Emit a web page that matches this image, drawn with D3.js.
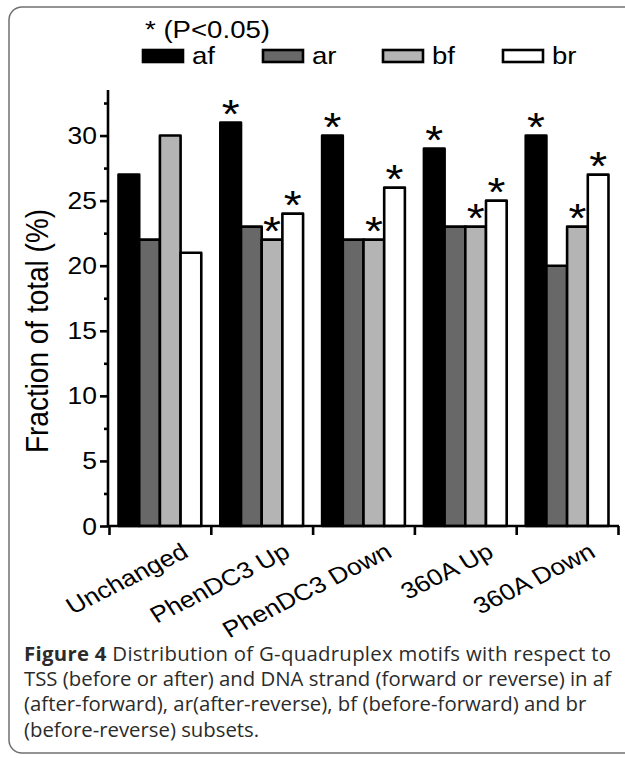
<!DOCTYPE html>
<html>
<head>
<meta charset="utf-8">
<script src="https://cdn.jsdelivr.net/npm/d3@7"></script>
<style>
  html, body { margin: 0; padding: 0; background: #fff; }
  svg { display: block; }
</style>
</head>
<body>
<svg id="chart" width="625" height="758"></svg>
<script>
// ---------------- data ----------------
const categories = ["Unchanged", "PhenDC3 Up", "PhenDC3 Down", "360A Up", "360A Down"];
const seriesNames = ["af", "ar", "bf", "br"];
const afValues = [27, 31, 30, 29, 30];
const arValues = [22, 23, 22, 23, 20];
const bfValues = [30, 22, 22, 23, 23];
const brValues = [21, 24, 26, 25, 27];
// significance markers (* P<0.05)
const afSig = [false, true, true, true, true];
const arSig = [false, false, false, false, false];
const bfSig = [false, true, true, true, true];
const brSig = [false, true, true, true, true];
const yTicks = [0, 5, 10, 15, 20, 25, 30];
const yMinorTicks = [2.5, 7.5, 12.5, 17.5, 22.5, 27.5, 32.5];
const yLabel = "Fraction of total (%)";
const legendNote = "* (P<0.05)";
const captionBold = "Figure 4";
const captionLines = [
  " Distribution of G-quadruplex motifs with respect to",
  "TSS (before or after) and DNA strand (forward or reverse) in af",
  "(after-forward), ar(after-reverse), bf (before-forward) and br",
  "(before-reverse) subsets."
];

const seriesValues = [afValues, arValues, bfValues, brValues];
const seriesSig = [afSig, arSig, bfSig, brSig];
const seriesFill = ["#000000", "#686868", "#b4b4b4", "#ffffff"];

const table = [];
categories.forEach((c, i) => {
  seriesNames.forEach((s, j) => {
    table.push({cat: c, ser: s, value: seriesValues[j][i], sig: seriesSig[j][i], fill: seriesFill[j]});
  });
});

// ---------------- layout ----------------
const svg = d3.select("#chart");
const SX = 1.15; // horizontal stretch of the original figure's text
const FONT = "Liberation Sans, Arial, Helvetica, sans-serif";

// outer rounded border
svg.append("rect")
  .attr("x", 9).attr("y", 7)
  .attr("width", 660).attr("height", 746)
  .attr("rx", 13).attr("ry", 13)
  .attr("fill", "none").attr("stroke", "#707070").attr("stroke-width", 1.5);

const plotLeft = 109, plotRight = 618, plotBottom = 526, plotTop = 90;

const y = d3.scaleLinear().domain([0, 33.5]).range([plotBottom, plotTop]);
const x0 = d3.scaleBand().domain(categories).range([plotLeft, plotRight]).paddingInner(0).paddingOuter(0);
const x1 = d3.scaleBand().domain(seriesNames).range([0, x0.bandwidth()]).paddingInner(0).paddingOuter(0.46);
const xEdge = d3.scaleLinear().domain([0, categories.length]).range([plotLeft, plotRight]);

// bars
const g = svg.append("g");
g.selectAll("rect.bar").data(table).join("rect")
  .attr("class", "bar")
  .attr("x", d => x0(d.cat) + x1(d.ser))
  .attr("y", d => y(d.value))
  .attr("width", x1.bandwidth())
  .attr("height", d => y(0) - y(d.value))
  .attr("fill", d => d.fill)
  .attr("stroke", "#000").attr("stroke-width", 2.6)
  .attr("stroke-linejoin", "round");

// stars
g.selectAll("text.star").data(table.filter(d => d.sig)).join("text")
  .attr("class", "star")
  .attr("transform", d => `translate(${x0(d.cat) + x1(d.ser) + x1.bandwidth() / 2},${y(d.value) + 5}) scale(${SX},1)`)
  .attr("text-anchor", "middle")
  .style("font-family", FONT).style("font-size", "40px")
  .text("*");

// y axis
const yAxis = svg.append("g").attr("transform", `translate(${plotLeft - 1},0)`)
  .call(d3.axisLeft(y).tickValues(yTicks).tickSize(8).tickSizeOuter(0).tickPadding(3));
yAxis.select(".domain").attr("stroke", "#000").attr("stroke-width", 2.6)
  .attr("d", `M0,${plotBottom}V${plotTop}`);
yAxis.selectAll(".tick line").attr("stroke", "#000").attr("stroke-width", 2.6);
yAxis.selectAll(".tick text")
  .attr("x", null).attr("dy", null)
  .attr("transform", `translate(-11,8) scale(${SX},1)`)
  .style("font-family", FONT).style("font-size", "23px").attr("fill", "#000");

const yMinor = svg.append("g").attr("transform", `translate(${plotLeft - 1},0)`)
  .call(d3.axisLeft(y).tickValues(yMinorTicks).tickSize(4).tickFormat(""));
yMinor.select(".domain").remove();
yMinor.selectAll(".tick line").attr("stroke", "#000").attr("stroke-width", 2.6);

// x axis (boundary ticks)
const xAxis = svg.append("g").attr("transform", `translate(0,${plotBottom})`)
  .call(d3.axisBottom(xEdge).tickValues(d3.range(categories.length + 1)).tickSize(9).tickSizeOuter(0).tickFormat(""));
xAxis.select(".domain").attr("stroke", "#000").attr("stroke-width", 2.6)
  .attr("d", `M${plotLeft - 2},0H${plotRight + 1}`);
xAxis.selectAll(".tick line").attr("stroke", "#000").attr("stroke-width", 2.6);

// category labels
svg.append("g").selectAll("text").data(categories).join("text")
  .attr("transform", d => `translate(${x0(d) + x0.bandwidth() / 2 + 30},556) scale(${SX},1) rotate(-30)`)
  .attr("text-anchor", "end")
  .style("font-family", FONT).style("font-size", "23px")
  .text(d => d);

// y label
svg.append("text")
  .attr("transform", `translate(48,331) scale(${SX},1) rotate(-90)`)
  .attr("text-anchor", "middle")
  .style("font-family", FONT).style("font-size", "28px")
  .text(yLabel);

// legend
svg.append("text")
  .attr("transform", `translate(145,38) scale(${SX},1)`)
  .style("font-family", FONT).style("font-size", "24px")
  .text(legendNote);

const legendX = d3.scalePoint().domain(seriesNames).range([143, 503]);
const leg = svg.append("g").selectAll("g").data(seriesNames).join("g")
  .attr("transform", d => `translate(${legendX(d)},50)`);
leg.append("rect")
  .attr("width", 40).attr("height", 12)
  .attr("fill", (d, i) => seriesFill[i])
  .attr("stroke", "#000").attr("stroke-width", 2.6);
leg.append("text")
  .attr("transform", `translate(49,14) scale(${SX},1)`)
  .style("font-family", FONT).style("font-size", "24px")
  .text(d => d);

// caption (first two lines justified to the caption width)
const cap = svg.append("g").style("font-family", "Open Sans, Noto Sans, sans-serif").attr("fill", "#2b2b2b");
const capX = 24, capW = 587, capY0 = 661, capDy = 25.2;
let capSize = 18;
const probe = cap.append("text").style("font-size", capSize + "px").text(captionLines[1]);
capSize = capSize * capW / probe.node().getComputedTextLength();
probe.remove();

const first = cap.append("text").attr("x", capX).attr("y", capY0).style("font-size", capSize + "px");
first.append("tspan").style("font-weight", "bold").text(captionBold);
first.append("tspan").text(captionLines[0]);
first.attr("textLength", capW).attr("lengthAdjust", "spacing");
captionLines.slice(1).forEach((line, i) => {
  const t = cap.append("text").attr("x", capX).attr("y", capY0 + capDy * (i + 1))
    .style("font-size", capSize + "px").text(line);
  if (i === 0) t.attr("textLength", capW).attr("lengthAdjust", "spacing");
});
</script>
</body>
</html>
